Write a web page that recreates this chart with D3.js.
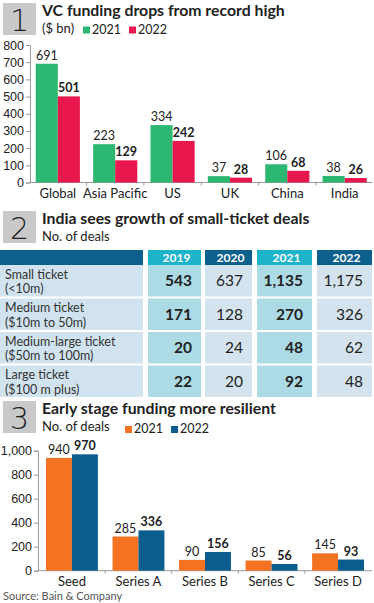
<!DOCTYPE html>
<html>
<head>
<meta charset="utf-8">
<script src="https://cdn.jsdelivr.net/npm/d3@7"></script>
<style>
  html, body { margin: 0; padding: 0; background: #fff; }
  svg { display: block; font-family: Lato, "Noto Sans", sans-serif; }
</style>
</head>
<body>
<div id="chart"></div>
<script>
// --- data ---
const regions = ["Global", "Asia Pacific", "US", "UK", "China", "India"];
const funding2021 = [691, 223, 334, 37, 106, 38];
const funding2022 = [501, 129, 242, 28, 68, 26];
const fundingTicks = [0, 100, 200, 300, 400, 500, 600, 700, 800];

const dealYears = ["2019", "2020", "2021", "2022"];
const ticketLabels = [
  ["Small ticket", "(<10m)"],
  ["Medium ticket", "($10m to 50m)"],
  ["Medium-large ticket", "($50m to 100m)"],
  ["Large ticket", "($100 m plus)"]
];
const deals2019 = [543, 171, 20, 22];
const deals2020 = [637, 128, 24, 20];
const deals2021 = [1135, 270, 48, 92];
const deals2022 = [1175, 326, 62, 48];

const stages = ["Seed", "Series A", "Series B", "Series C", "Series D"];
const stage2021 = [940, 285, 90, 85, 145];
const stage2022 = [970, 336, 156, 56, 93];
const stageTicks = [0, 200, 400, 600, 800, 1000];

// --- page ---
const W = 374, H = 603;
const svg = d3.select("#chart").append("svg")
  .attr("width", W).attr("height", H)
  .attr("viewBox", [0, 0, W, H]);

const ink = "#222";
const fmt = d3.format(",");

function sectionHead(num, top, title, sub) {
  svg.append("rect").attr("x", 3).attr("y", top).attr("width", 33).attr("height", 32)
    .attr("fill", "#c9c9c9");
  svg.append("text").attr("x", 19.5).attr("y", top + 28).attr("text-anchor", "middle")
    .attr("font-family", "'DejaVu Sans', sans-serif")
    .attr("font-size", 30).attr("font-weight", 200).attr("fill", ink).text(num);
  svg.append("text").attr("x", 42).attr("y", top + 12.5)
    .attr("font-size", 15.8).attr("font-weight", 700).attr("fill", ink).text(title);
  svg.append("text").attr("x", 42).attr("y", top + 30)
    .attr("font-size", 13).attr("fill", ink).text(sub);
}

function legend(x0, y, items) {
  let x = x0;
  items.forEach(([label, color]) => {
    svg.append("rect").attr("x", x).attr("y", y - 7).attr("width", 7).attr("height", 7).attr("fill", color);
    const t = svg.append("text").attr("x", x + 9).attr("y", y).attr("font-size", 12.5)
      .attr("fill", ink).text(label);
    x += 9 + t.node().getComputedTextLength() + 8;
  });
}

// grouped bar chart helper
function barChart(cfg) {
  const { cats, a, b, ticks, colA, colB, xRange, yRange, yMax, tickFmt, labelY } = cfg;
  const x0 = d3.scaleBand().domain(cats).range(xRange).paddingInner(cfg.inner).paddingOuter(cfg.outer);
  const x1 = d3.scaleBand().domain(["a", "b"]).range([0, x0.bandwidth()]);
  const y = d3.scaleLinear().domain([0, yMax]).range(yRange);

  const yAxis = svg.append("g").attr("transform", `translate(${xRange[0]},0)`)
    .call(d3.axisLeft(y).tickValues(ticks).tickFormat(tickFmt).tickSize(4).tickPadding(2));
  yAxis.select(".domain").attr("stroke", "#999");
  yAxis.selectAll(".tick line").attr("stroke", "#999");
  yAxis.selectAll(".tick text").attr("font-size", 12.5).attr("fill", ink).attr("font-family", null);

  // baseline and small separators between groups
  svg.append("line").attr("x1", xRange[0]).attr("x2", xRange[1])
    .attr("y1", y(0)).attr("y2", y(0)).attr("stroke", "#999");
  const step = x0.step();
  svg.append("g").selectAll("line").data(cats.slice(1)).join("line")
    .attr("x1", d => x0(d) - step * cfg.inner / 2).attr("x2", d => x0(d) - step * cfg.inner / 2)
    .attr("y1", y(0)).attr("y2", y(0) + 3).attr("stroke", "#999");

  const rows = cats.map((c, i) => ({ c, a: a[i], b: b[i] }));
  const g = svg.append("g").selectAll("g").data(rows).join("g")
    .attr("transform", d => `translate(${x0(d.c)},0)`);

  g.append("rect").attr("x", x1("a")).attr("width", x1.bandwidth())
    .attr("y", d => y(d.a)).attr("height", d => y(0) - y(d.a)).attr("fill", colA);
  g.append("rect").attr("x", x1("b")).attr("width", x1.bandwidth())
    .attr("y", d => y(d.b)).attr("height", d => y(0) - y(d.b)).attr("fill", colB);

  g.append("text").attr("x", x1("a") + x1.bandwidth() / 2).attr("y", d => y(d.a) - 4)
    .attr("text-anchor", "middle").attr("font-size", 12.5).attr("fill", ink).text(d => d.a);
  g.append("text").attr("x", x1("b") + x1.bandwidth() / 2).attr("y", d => y(d.b) - 4)
    .attr("text-anchor", "middle").attr("font-size", 12.5).attr("font-weight", 700)
    .attr("fill", ink).text(d => d.b);

  g.append("text").attr("x", x0.bandwidth() / 2).attr("y", labelY)
    .attr("text-anchor", "middle").attr("font-size", 13).attr("fill", ink).text(d => d.c);
}

// --- section 1 ---
sectionHead("1", 3, "VC funding drops from record high", "($ bn)");
legend(83, 33.5, [["2021", "#2db872"], ["2022", "#e8174e"]]);
barChart({
  cats: regions, a: funding2021, b: funding2022, ticks: fundingTicks,
  colA: "#2db872", colB: "#e8174e",
  xRange: [30, 372.5], yRange: [182.5, 45], yMax: 800,
  inner: 0.23, outer: 0.1, tickFmt: d3.format("d"), labelY: 197.5
});

// --- section 2: table ---
sectionHead("2", 211, "India sees growth of small-ticket deals", "No. of deals");

const colX = d3.scaleOrdinal().domain(dealYears).range([148, 205, 257, 317]);
const colW = d3.scaleOrdinal().domain(dealYears).range([53, 47, 55, 55]);
const hiCol = d3.scaleOrdinal().domain(dealYears).range([true, false, true, false]);
const rowY = d3.scaleBand().domain(d3.range(ticketLabels.length)).range([265, 397]).paddingInner(0.06);

const headY = 250, headH = 15;
svg.append("rect").attr("x", 0).attr("y", headY).attr("width", 143).attr("height", headH).attr("fill", "#0d5f8c");
svg.append("g").selectAll("rect").data(dealYears).join("rect")
  .attr("x", d => colX(d)).attr("y", headY).attr("width", d => colW(d)).attr("height", headH)
  .attr("fill", d => hiCol(d) ? "#1db3c9" : "#0d5f8c");
svg.append("g").selectAll("text").data(dealYears).join("text")
  .attr("x", d => colX(d) + colW(d) / 2 + 2).attr("y", headY + 12)
  .attr("text-anchor", "middle").attr("font-size", 12).attr("font-weight", 700).attr("fill", "#fff")
  .text(d => d);

const dealCols = [deals2019, deals2020, deals2021, deals2022];
const tableRows = ticketLabels.map((lab, i) => ({ i, lab, vals: dealCols.map(c => c[i]) }));
const tr = svg.append("g").selectAll("g").data(tableRows).join("g")
  .attr("transform", d => `translate(0,${rowY(d.i)})`);
tr.append("rect").attr("x", 0).attr("width", 143).attr("height", rowY.bandwidth()).attr("fill", "#d0e3ef");
tr.append("text").attr("x", 5).attr("y", 13.5).attr("font-size", 12.5).attr("fill", "#333")
  .text(d => d.lab[0]);
tr.append("text").attr("x", 5).attr("y", 28).attr("font-size", 12.5).attr("fill", "#333")
  .text(d => d.lab[1]);
dealYears.forEach((yr, j) => {
  tr.append("rect").attr("x", colX(yr)).attr("width", colW(yr)).attr("height", rowY.bandwidth())
    .attr("fill", hiCol(yr) ? "#acdbe6" : "#d4e3ee");
  tr.append("text").attr("x", colX(yr) + colW(yr) - 9).attr("y", rowY.bandwidth() / 2 + 5.5)
    .attr("text-anchor", "end").attr("font-size", 15.5).attr("font-weight", hiCol(yr) ? 700 : 400)
    .attr("fill", ink).text(d => fmt(d.vals[j]));
});

// --- section 3 ---
sectionHead("3", 401, "Early stage funding more resilient", "No. of deals");
legend(125, 433, [["2021", "#f47322"], ["2022", "#0b5d8e"]]);
barChart({
  cats: stages, a: stage2021, b: stage2022, ticks: stageTicks,
  colA: "#f47322", colB: "#0b5d8e",
  xRange: [38, 372], yRange: [570.7, 450.7], yMax: 1000,
  inner: 0.22, outer: 0.12, tickFmt: fmt, labelY: 586
});

svg.append("text").attr("x", 3).attr("y", 600).attr("font-size", 11).attr("fill", "#555")
  .text("Source: Bain & Company");
</script>
</body>
</html>
